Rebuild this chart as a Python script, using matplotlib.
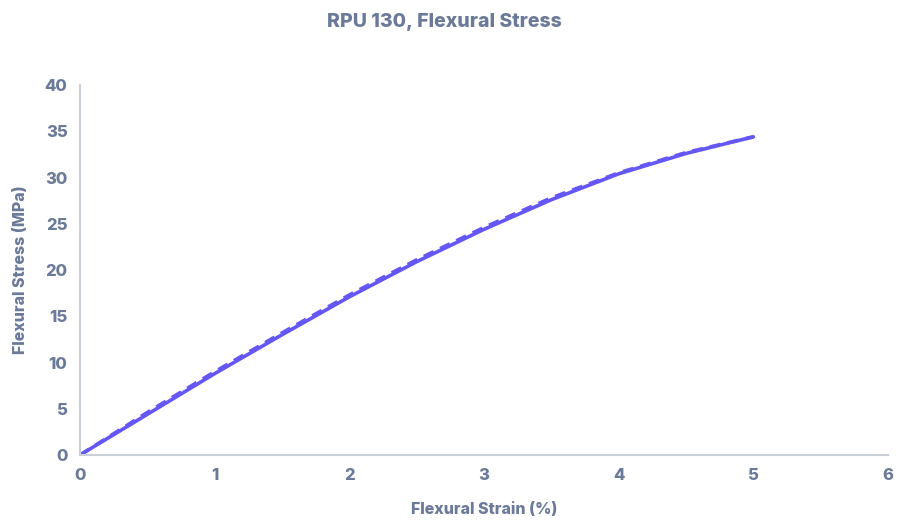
import numpy as np
import matplotlib
matplotlib.use("Agg")
import matplotlib.pyplot as plt

plt.rcParams['font.family'] = ['Inter', 'DejaVu Sans']

# strain (%) and stress (MPa)
strain = [0, 0.5, 1.0, 1.5, 2.0, 2.5, 3.0, 3.5, 4.0, 4.5, 5.0]
stress_a = [0, 4.4, 8.8, 13.0, 17.1, 20.9, 24.4, 27.6, 30.4, 32.6, 34.4]
stress_b = [0, 4.6, 9.0, 13.2, 17.3, 21.1, 24.6, 27.8, 30.5, 32.7, 34.4]

txt = '#6B7A99'
line_col = '#6457F5'
spine_col = '#C9CED9'
wt = 'heavy'

fig = plt.figure(figsize=(8.98, 5.2), dpi=100)
ax = fig.add_axes([0.0891, 0.125, 0.8998, 0.7115])

ax.plot(strain, stress_a, color=line_col, lw=2.6, solid_capstyle='round')
ax.plot(strain, stress_b, color=line_col, lw=2.6, ls=(0, (3, 2)))

ax.set_xlim(0, 6)
ax.set_ylim(0, 40)
ax.set_xticks(range(0, 7))
ax.set_yticks(range(0, 41, 5))

for s in ['top', 'right']:
    ax.spines[s].set_visible(False)
for s in ['left', 'bottom']:
    ax.spines[s].set_color(spine_col)
    ax.spines[s].set_linewidth(1.5)
ax.tick_params(length=0, colors=txt, labelsize=12, pad=9)
for lab in ax.get_xticklabels() + ax.get_yticklabels():
    lab.set_fontweight(wt)

ax.set_xlabel('Flexural Strain (%)', color=txt, fontsize=11.5, fontweight=wt, labelpad=14)
ax.set_ylabel('Flexural Stress (MPa)', color=txt, fontsize=11.5, fontweight=wt, labelpad=12)
fig.text(0.495, 0.957, 'RPU 130, Flexural Stress', color=txt, fontsize=14,
         fontweight=wt, ha='center', va='center')

fig.savefig('out.png', dpi=100)
